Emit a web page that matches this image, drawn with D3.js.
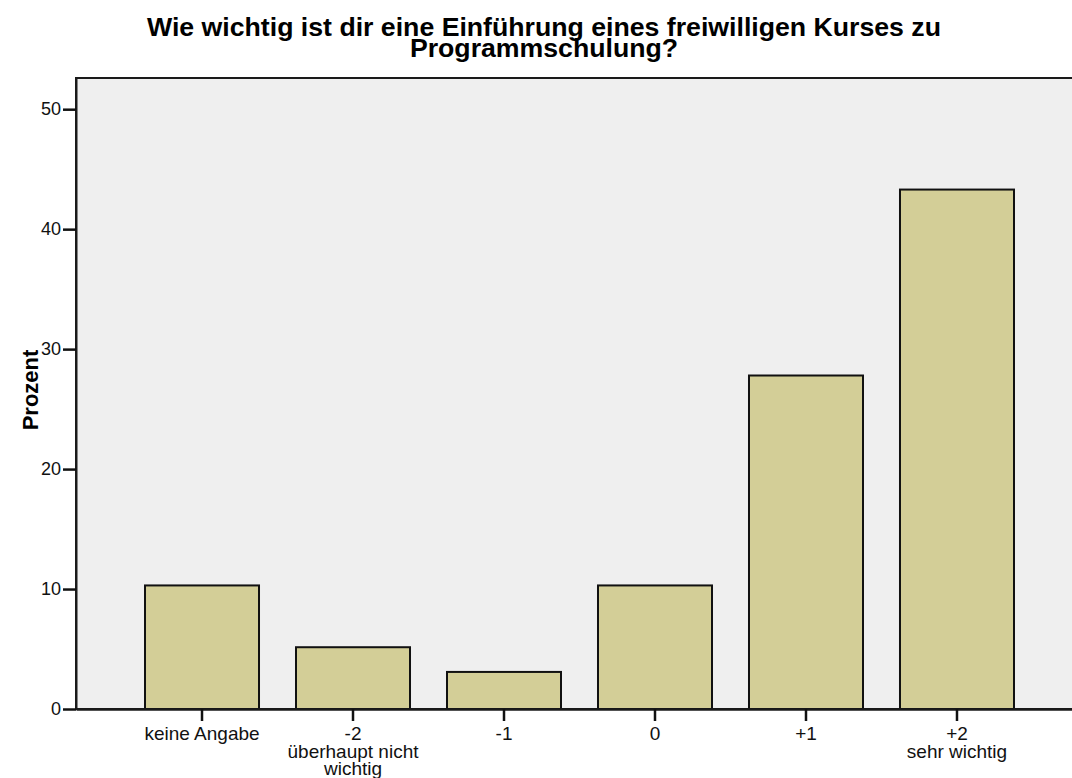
<html>
<head>
  <title>Programmschulung</title>
  <script src="https://cdn.jsdelivr.net/npm/d3@7"></script>
  <style>
    body { margin: 0; background: #fff; }
    text { font-family: "Liberation Sans", Arial, sans-serif; }
  </style>
</head>
<body>
  <script>
    // Daten
    const categories = ["keine Angabe", "-2", "-1", "0", "+1", "+2"];
    const subLabels = [[], ["überhaupt nicht", "wichtig"], [], [], [], ["sehr wichtig"]];
    const percent = [10.3, 5.15, 3.09, 10.3, 27.8, 43.3];
    const yTicks = [0, 10, 20, 30, 40, 50];

    const w = 1072, h = 778;
    const padLeft = 76, padTop = 78, plotRight = 1083, plotBottom = 709;
    const fontFam = "Liberation Sans, Arial, sans-serif";

    const svg = d3.select("body").append("svg")
      .attr("width", w).attr("height", h);

    const x = d3.scaleBand()
      .domain(categories)
      .range([padLeft, plotRight])
      .paddingInner(0.245)
      .paddingOuter(0.457);

    const y = d3.scaleLinear()
      .domain([0, 52.6])
      .range([plotBottom, padTop]);

    // Hintergrund
    svg.append("rect")
      .attr("x", padLeft).attr("y", padTop)
      .attr("width", plotRight - padLeft).attr("height", plotBottom - padTop)
      .attr("fill", "#efefef")
      .attr("stroke", "#1a1a1a").attr("stroke-width", 2);

    // Balken
    svg.selectAll(".bar")
      .data(percent)
      .enter().append("rect")
      .attr("class", "bar")
      .attr("x", (d, i) => x(categories[i]))
      .attr("y", d => y(d))
      .attr("width", x.bandwidth())
      .attr("height", d => y(0) - y(d))
      .attr("fill", "#d3ce97")
      .attr("stroke", "#111")
      .attr("stroke-width", 2);

    // y-Achse
    const yAxis = svg.append("g")
      .attr("transform", "translate(" + padLeft + ",0)")
      .call(d3.axisLeft(y).tickValues(yTicks).tickSizeInner(13).tickSizeOuter(0).tickPadding(2));
    yAxis.select(".domain").attr("stroke", "#1a1a1a").attr("stroke-width", 2);
    yAxis.selectAll(".tick line").attr("stroke", "#111").attr("stroke-width", 2.5);
    yAxis.selectAll(".tick text").attr("font-size", 18).attr("fill", "#111")
      .attr("font-family", fontFam);

    // x-Achse
    const xAxis = svg.append("g")
      .attr("transform", "translate(0," + plotBottom + ")")
      .call(d3.axisBottom(x).tickSizeInner(12).tickSizeOuter(0).tickPadding(6));
    xAxis.select(".domain").attr("stroke", "#1a1a1a").attr("stroke-width", 2.5);
    xAxis.selectAll(".tick line").attr("stroke", "#111").attr("stroke-width", 2.5);
    xAxis.selectAll(".tick text").attr("font-size", 19).attr("fill", "#111")
      .attr("font-family", fontFam);
    xAxis.selectAll(".tick text").each(function (d, i) {
      const t = d3.select(this);
      subLabels[i].forEach(s => {
        t.append("tspan").attr("x", 0).attr("dy", "0.92em").text(s);
      });
    });

    // y-Titel
    svg.append("text")
      .attr("transform", "translate(38,390) rotate(-90)")
      .attr("text-anchor", "middle")
      .attr("font-size", 22).attr("font-weight", "bold")
      .text("Prozent");

    // Titel (leicht in die Breite gezogen wie im Original)
    const title = svg.append("text")
      .attr("transform", "translate(544,0) scale(1.067,1)")
      .attr("text-anchor", "middle")
      .attr("font-size", 25).attr("font-weight", "bold");
    title.append("tspan").attr("x", 0).attr("y", 36)
      .text("Wie wichtig ist dir eine Einführung eines freiwilligen Kurses zu");
    title.append("tspan").attr("x", 0).attr("y", 57)
      .text("Programmschulung?");
  </script>
</body>
</html>
